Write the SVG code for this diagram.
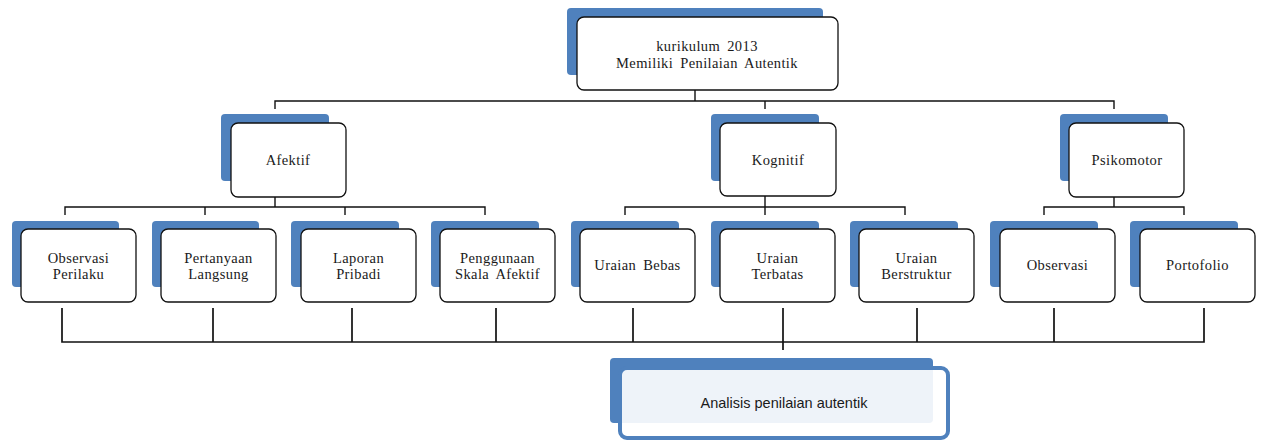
<svg xmlns="http://www.w3.org/2000/svg" width="1262" height="441" viewBox="0 0 1262 441">
<style>
.sh{fill:#4F81BD}
.bx{fill:#fff;stroke:#111;stroke-width:1.3}
.t{font-family:'Liberation Serif','Times New Roman','DejaVu Serif',serif;font-size:14.5px;letter-spacing:0.4px;word-spacing:3px;fill:#1a1a1a;text-anchor:middle}
.ln{fill:none;stroke:#111;stroke-width:1.4}
.lb{fill:none;stroke:#111;stroke-width:1.7}
</style>
<rect width="1262" height="441" fill="#fff"/>
<g id="connectors">
<path class="ln" d="M695 90V101M275 109V101H1114V109M765 101V109"/>
<path class="ln" d="M275 197V207M65 215V207H485V215M205 207V215M345 207V215"/>
<path class="ln" d="M765 196V207M625 215V207H905V215M765 207V215"/>
<path class="ln" d="M1114 197V207M1044 215V207H1184V215"/>
<path class="lb" d="M62 308V342H1204V308M213 308V342M352 308V342M496 308V342M633 308V342M783 308V350M917 308V342M1054 308V342"/>
</g>
<g id="n-top">
<rect class="sh" x="567" y="8" width="256" height="67" rx="4"/>
<rect class="bx" x="577" y="17" width="261" height="73" rx="7"/>
<text class="t" x="707" y="51" font-family="Liberation Serif, serif">kurikulum 2013</text>
<text class="t" x="707" y="68" font-family="Liberation Serif, serif">Memiliki Penilaian Autentik</text>
</g>
<g id="n-afektif">
<rect class="sh" x="221" y="114" width="108" height="67" rx="4"/>
<rect class="bx" x="231" y="123" width="115" height="74" rx="7"/>
<text class="t" x="288" y="165">Afektif</text>
</g>
<g id="n-kognitif">
<rect class="sh" x="711" y="114" width="108" height="67" rx="4"/>
<rect class="bx" x="720" y="123" width="116" height="73" rx="7"/>
<text class="t" x="778" y="165">Kognitif</text>
</g>
<g id="n-psikomotor">
<rect class="sh" x="1060" y="114" width="108" height="67" rx="4"/>
<rect class="bx" x="1069" y="123" width="115" height="74" rx="7"/>
<text class="t" x="1127" y="165">Psikomotor</text>
</g>
<g id="n-observasi-perilaku">
<rect class="sh" x="12" y="221" width="107" height="66" rx="4"/>
<rect class="bx" x="21" y="229" width="115" height="73" rx="7"/>
<text class="t" x="78.5" y="262.5">Observasi</text>
<text class="t" x="78.5" y="279">Perilaku</text>
</g>
<g id="n-pertanyaan">
<rect class="sh" x="152" y="221" width="107" height="66" rx="4"/>
<rect class="bx" x="161" y="229" width="115" height="73" rx="7"/>
<text class="t" x="218.5" y="262.5">Pertanyaan</text>
<text class="t" x="218.5" y="279">Langsung</text>
</g>
<g id="n-laporan">
<rect class="sh" x="291" y="221" width="108" height="66" rx="4"/>
<rect class="bx" x="301" y="229" width="115" height="73" rx="7"/>
<text class="t" x="358.5" y="262.5">Laporan</text>
<text class="t" x="358.5" y="279">Pribadi</text>
</g>
<g id="n-penggunaan">
<rect class="sh" x="431" y="221" width="108" height="66" rx="4"/>
<rect class="bx" x="440" y="229" width="115" height="73" rx="7"/>
<text class="t" x="497.5" y="262.5">Penggunaan</text>
<text class="t" x="497.5" y="279">Skala Afektif</text>
</g>
<g id="n-uraian-bebas">
<rect class="sh" x="571" y="221" width="108" height="66" rx="4"/>
<rect class="bx" x="580" y="229" width="115" height="73" rx="7"/>
<text class="t" x="637.5" y="270">Uraian Bebas</text>
</g>
<g id="n-uraian-terbatas">
<rect class="sh" x="711" y="221" width="108" height="66" rx="4"/>
<rect class="bx" x="720" y="229" width="115" height="73" rx="7"/>
<text class="t" x="777.5" y="262.5">Uraian</text>
<text class="t" x="777.5" y="279">Terbatas</text>
</g>
<g id="n-uraian-berstruktur">
<rect class="sh" x="850" y="221" width="108" height="66" rx="4"/>
<rect class="bx" x="859" y="229" width="115" height="73" rx="7"/>
<text class="t" x="916.5" y="262.5">Uraian</text>
<text class="t" x="916.5" y="279">Berstruktur</text>
</g>
<g id="n-observasi">
<rect class="sh" x="990" y="221" width="108" height="66" rx="4"/>
<rect class="bx" x="1000" y="229" width="115" height="73" rx="7"/>
<text class="t" x="1057.5" y="270">Observasi</text>
</g>
<g id="n-portofolio">
<rect class="sh" x="1130" y="221" width="108" height="66" rx="4"/>
<rect class="bx" x="1140" y="229" width="115" height="73" rx="7"/>
<text class="t" x="1197.5" y="270">Portofolio</text>
</g>
<g id="n-analisis">
<rect class="sh" x="610" y="358" width="323" height="65" rx="4"/>
<rect x="620" y="368" width="328" height="70" rx="7" fill="#fff" fill-opacity="0.9" stroke="#4F81BD" stroke-width="4"/>
<text x="784" y="408" font-family="Liberation Sans, Arial, sans-serif" font-size="14.5" fill="#1a1a1a" text-anchor="middle">Analisis penilaian autentik</text>
</g>
</svg>
